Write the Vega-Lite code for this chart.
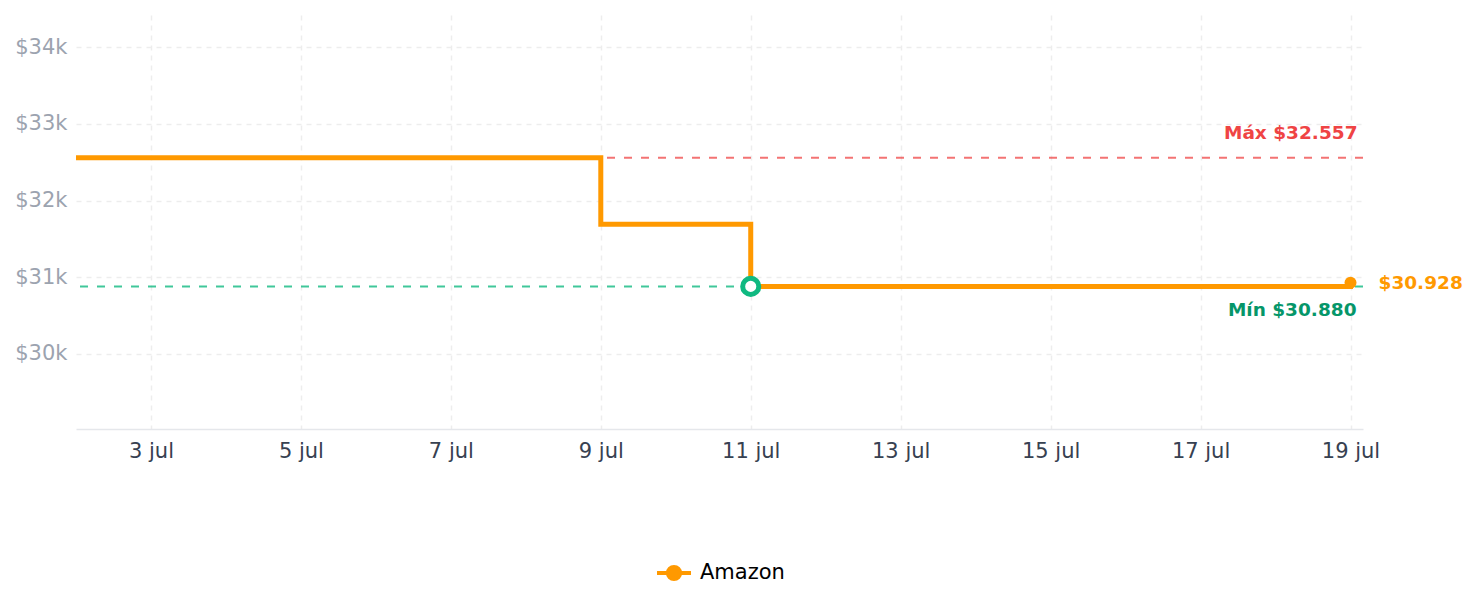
{
  "$schema": "https://vega.github.io/schema/vega-lite/v6.json",
  "autosize": {"type": "none"},
  "padding": {"left": 76, "top": 15, "right": 116, "bottom": 178},
  "width": 1287,
  "height": 414,
  "config": {
    "font": "DejaVu Sans",
    "view": {"stroke": null},
    "axis": {"gridColor": "#ededed", "gridDash": [5, 5], "gridWidth": 1.5, "ticks": false, "title": null}
  },
  "datasets": {
    "series": [
      {"date": "2025-07-02T00:00:00Z", "price": 32557, "store": "Amazon"},
      {"date": "2025-07-09T00:00:00Z", "price": 31690, "store": "Amazon"},
      {"date": "2025-07-11T00:00:00Z", "price": 30880, "store": "Amazon"},
      {"date": "2025-07-19T00:00:00Z", "price": 30928, "store": "Amazon"}
    ],
    "stats": [
      {"kind": "max", "price": 32557, "date": "2025-07-19T00:00:00Z", "label": "Máx $32.557"},
      {"kind": "min", "price": 30880, "date": "2025-07-11T00:00:00Z", "label": "Mín $30.880"},
      {"kind": "last", "price": 30928, "date": "2025-07-19T00:00:00Z", "label": "$30.928"}
    ]
  },
  "encoding": {
    "x": {
      "field": "date", "type": "temporal",
      "scale": {"type": "utc", "domain": [
        {"year": 2025, "month": 7, "date": 2, "utc": true},
        {"year": 2025, "month": 7, "date": 19, "hours": 4, "utc": true}
      ]},
      "axis": {
        "values": [
          {"year": 2025, "month": 7, "date": 3, "utc": true},
          {"year": 2025, "month": 7, "date": 5, "utc": true},
          {"year": 2025, "month": 7, "date": 7, "utc": true},
          {"year": 2025, "month": 7, "date": 9, "utc": true},
          {"year": 2025, "month": 7, "date": 11, "utc": true},
          {"year": 2025, "month": 7, "date": 13, "utc": true},
          {"year": 2025, "month": 7, "date": 15, "utc": true},
          {"year": 2025, "month": 7, "date": 17, "utc": true},
          {"year": 2025, "month": 7, "date": 19, "utc": true}
        ],
        "labelExpr": "utcFormat(datum.value, '%-d') + ' jul'",
        "labelFontSize": 21, "labelColor": "#374151", "labelPadding": 11,
        "domainColor": "#e5e7eb", "domainWidth": 1.5
      }
    },
    "y": {
      "field": "price", "type": "quantitative",
      "scale": {"domain": [29020, 34420], "nice": false, "zero": false},
      "axis": {
        "values": [30000, 31000, 32000, 33000, 34000],
        "labelExpr": "'$' + format(datum.value / 1000, 'd') + 'k'",
        "labelFontSize": 21, "labelColor": "#9ca3af", "labelPadding": 9,
        "domain": false
      }
    }
  },
  "layer": [
    {
      "data": {"name": "stats"},
      "transform": [{"filter": "datum.kind === 'max'"}],
      "mark": {"type": "rule", "color": "#ef4444", "opacity": 0.75, "strokeWidth": 2, "strokeDash": [8, 9]},
      "encoding": {"x": null, "y": {"field": "price", "type": "quantitative"}}
    },
    {
      "data": {"name": "stats"},
      "transform": [{"filter": "datum.kind === 'min'"}],
      "mark": {"type": "rule", "color": "#10b981", "opacity": 0.8, "strokeWidth": 2, "strokeDash": [8, 9]},
      "encoding": {"x": null, "y": {"field": "price", "type": "quantitative"}}
    },
    {
      "data": {"name": "series"},
      "mark": {"type": "line", "interpolate": "step-after", "strokeWidth": 5},
      "encoding": {
        "color": {
          "field": "store", "type": "nominal",
          "scale": {"domain": ["Amazon"], "range": ["#ff9900"]},
          "legend": {
            "title": null, "orient": "none", "legendX": 579, "legendY": 539,
            "symbolType": "M-1,0L1,0M-0.36,0A0.36,0.36,0,1,1,0.36,0A0.36,0.36,0,1,1,-0.36,0Z",
            "symbolSize": 1156, "symbolStrokeWidth": 4, "symbolStrokeColor": "#ff9900",
            "labelFontSize": 21, "labelColor": "#000000", "labelOffset": 7,
            "encode": {"symbols": {"update": {"fill": {"value": "#ff9900"}, "stroke": {"value": "#ff9900"}}}}
          }
        }
      }
    },
    {
      "data": {"name": "stats"},
      "transform": [{"filter": "datum.kind === 'min'"}],
      "mark": {"type": "point", "shape": "circle", "filled": true, "fill": "#ffffff", "stroke": "#10b981", "strokeWidth": 5, "size": 260, "opacity": 1}
    },
    {
      "data": {"name": "stats"},
      "transform": [{"filter": "datum.kind === 'last'"}],
      "mark": {"type": "point", "shape": "circle", "filled": true, "color": "#ff9900", "size": 144, "opacity": 1}
    },
    {
      "data": {"name": "stats"},
      "transform": [{"filter": "datum.kind === 'max'"}],
      "mark": {"type": "text", "align": "right", "baseline": "middle", "dx": 7, "dy": -25, "fontSize": 18.5, "fontWeight": "bold", "color": "#ef4444"},
      "encoding": {"text": {"field": "label"}}
    },
    {
      "data": {"name": "stats"},
      "transform": [{"filter": "datum.kind === 'min'"}],
      "mark": {"type": "text", "align": "right", "baseline": "middle", "dx": 6, "dy": 24, "fontSize": 18.5, "fontWeight": "bold", "color": "#059669"},
      "encoding": {
        "x": {"datum": {"year": 2025, "month": 7, "date": 19, "utc": true}, "type": "temporal"},
        "text": {"field": "label"}
      }
    },
    {
      "data": {"name": "stats"},
      "transform": [{"filter": "datum.kind === 'last'"}],
      "mark": {"type": "text", "align": "left", "baseline": "middle", "dx": 28, "fontSize": 18.5, "fontWeight": "bold", "color": "#ff9900"},
      "encoding": {"text": {"field": "label"}}
    }
  ]
}
